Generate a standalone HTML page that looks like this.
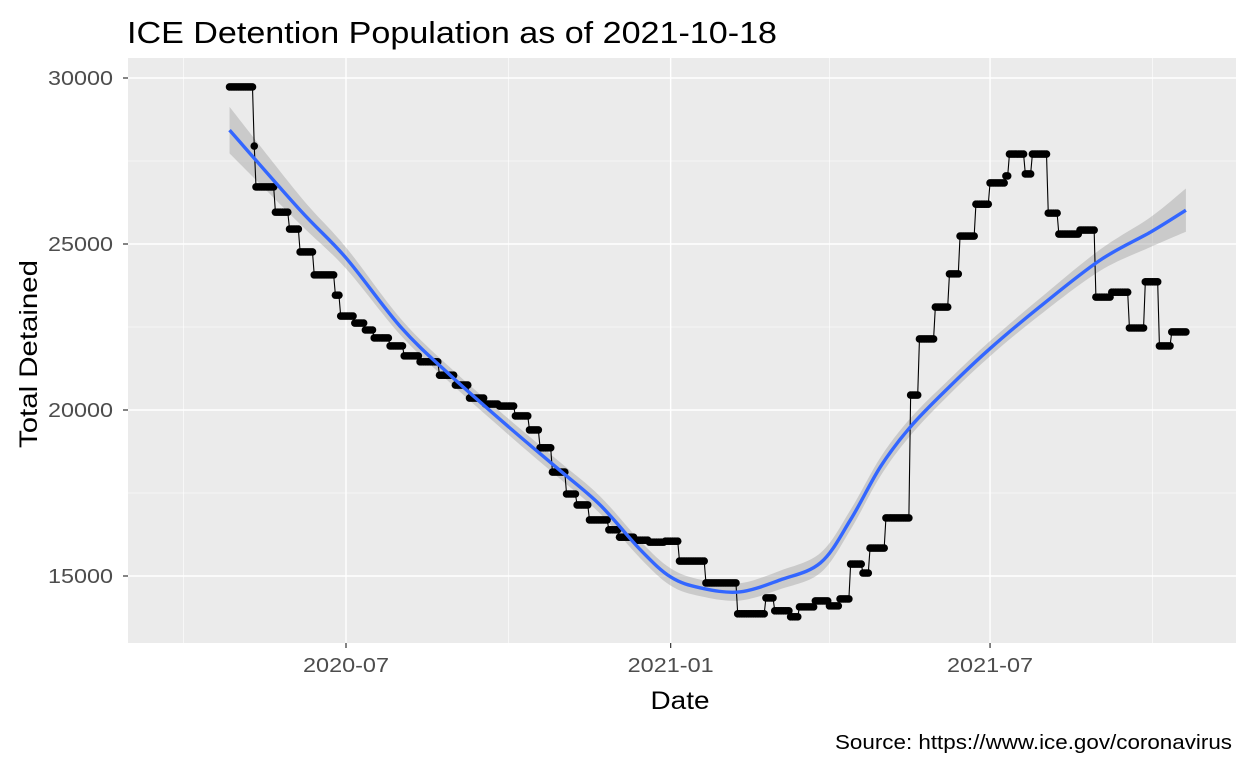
<!DOCTYPE html>
<html><head><meta charset="utf-8"><style>
body{margin:0;background:#fff;}
svg{display:block;font-family:"Liberation Sans",sans-serif;}
</style></head><body>
<svg id="chart" width="1248" height="768">
<rect x="0" y="0" width="1248" height="768" fill="#fff"/>
<text x="127" y="43" font-size="31" textLength="650" lengthAdjust="spacingAndGlyphs" fill="#000">ICE Detention Population as of 2021-10-18</text>
<rect x="128" y="58" width="1108" height="585" fill="#ebebeb"/>
<g id="grid"></g>
<g id="ribbon"></g>
<g id="series"></g>
<g id="smooth"></g>
<g id="axes"></g>
<text x="0" y="0" transform="translate(37,354) rotate(-90)" text-anchor="middle" font-size="25" textLength="188" lengthAdjust="spacingAndGlyphs" fill="#000">Total Detained</text>
<text x="680" y="709" text-anchor="middle" font-size="25" textLength="59" lengthAdjust="spacingAndGlyphs" fill="#000">Date</text>
<text x="1232" y="749" text-anchor="end" font-size="20" textLength="397" lengthAdjust="spacingAndGlyphs" fill="#000">Source: https://www.ice.gov/coronavirus</text>
</svg>
<script>
// days since 2020-07-01 at which each reported level begins
const levelDays = [-66,-52,-51,-40,-32,-26,-18,-6,-3,5,11,16,25,33,42,53,62,70,79,87,96,104,110,117,125,131,138,149,155,164,172,181,189,204,222,238,243,252,257,266,274,280,286,293,297,306,320,325,334,342,348,357,365,374,376,385,389,398,404,416,425,434,444,453,461,468];
const levelValues = [29730,27950,26720,25960,25450,24760,24070,23460,22830,22620,22410,22170,21930,21630,21450,21050,20750,20360,20180,20120,19820,19400,18860,18130,17470,17140,16690,16390,16170,16080,16020,16050,15450,14790,13860,14340,13950,13770,14070,14250,14100,14310,15360,15090,15840,16750,20450,22140,23100,24100,25240,26200,26840,27050,27710,27110,27710,25930,25300,25420,23400,23550,22470,23860,21930,22350];
const lastDay = 476;
const smoothDays = [-66,-26,0,31,59,92,121,144,167,184,201,223,246,269,286,303,320,342,365,393,427,456,476];
const smoothValues = [28430,26020,24580,22500,21050,19500,18190,17140,15780,14970,14640,14520,14880,15400,16700,18300,19500,20700,21850,23100,24500,25360,26020];
const smoothSE = [700,420,320,250,230,240,250,260,260,260,250,260,280,300,300,280,260,230,230,250,320,450,650];
const yTicks = [15000,20000,25000,30000];
const xTickDays = [0,184,365];
const xTickLabels = ["2020-07","2021-01","2021-07"];
const xMinorDays = [-92,92,274,457];

const NS="http://www.w3.org/2000/svg";
const X=d=>346+d*1.7645;
const Y=v=>78+(30000-v)*0.0332;
function el(tag,attrs,parent){const e=document.createElementNS(NS,tag);for(const k in attrs)e.setAttribute(k,attrs[k]);parent.appendChild(e);return e;}
const grid=document.getElementById('grid');
yTicks.forEach((v,i)=>{
  const l=el('line',{x1:128,x2:1236,y1:Y(v),y2:Y(v),stroke:'#fff','stroke-width':1.4},grid);
  
  
  if(i<yTicks.length-1){const m=el('line',{x1:128,x2:1236,y1:Y(v+2500),y2:Y(v+2500),stroke:'#fff','stroke-width':0.6},grid);
  
  }
});
const mm=el('line',{x1:128,x2:1236,y1:Y(12500),y2:Y(12500),stroke:'#fff','stroke-width':0.6},grid);


xMinorDays.forEach(d=>{const l=el('line',{x1:X(d),x2:X(d),y1:58,y2:643,stroke:'#fff','stroke-width':0.6},grid);
  
  });
xTickDays.forEach(d=>{const l=el('line',{x1:X(d),x2:X(d),y1:58,y2:643,stroke:'#fff','stroke-width':1.4},grid);
  
  });

function spline(pts){let d=`M${pts[0][0]},${pts[0][1]}`;
  for(let i=0;i<pts.length-1;i++){const p0=pts[Math.max(i-1,0)],p1=pts[i],p2=pts[i+1],p3=pts[Math.min(i+2,pts.length-1)];
    d+=` C${p1[0]+(p2[0]-p0[0])/6},${p1[1]+(p2[1]-p0[1])/6} ${p2[0]-(p3[0]-p1[0])/6},${p2[1]-(p3[1]-p1[1])/6} ${p2[0]},${p2[1]}`;}
  return d;}
const upper=smoothDays.map((d,i)=>[X(d),Y(smoothValues[i]+smoothSE[i])]);
const lower=smoothDays.map((d,i)=>[X(d),Y(smoothValues[i]-smoothSE[i])]).reverse();
const rp=spline(upper)+' L'+spline(lower).slice(1)+' Z';
const rib=el('path',{d:rp,fill:'#999',opacity:0.4},document.getElementById('ribbon'));



const series=document.getElementById('series');
const pts=[];
for(let i=0;i<levelDays.length;i++){const end=i+1<levelDays.length?levelDays[i+1]:lastDay+1;
  for(let d=levelDays[i];d<end;d++)pts.push([X(d),Y(levelValues[i])]);}
const line=el('polyline',{points:pts.map(p=>p.join(',')).join(' '),fill:'none',stroke:'#000','stroke-width':1.1},series);


pts.forEach(p=>{const c=el('circle',{cx:p[0],cy:p[1],r:3.8,fill:'#000'},series);
  
  });

const sm=el('path',{d:spline(smoothDays.map((d,i)=>[X(d),Y(smoothValues[i])])),fill:'none',stroke:'#3366ff','stroke-width':3.4},document.getElementById('smooth'));



const axes=document.getElementById('axes');
yTicks.forEach(v=>{
  const t=el('line',{x1:123,x2:128,y1:Y(v),y2:Y(v),stroke:'#333','stroke-width':1.2},axes);
  
  
  const tx=el('text',{x:113,y:Y(v)+7,'text-anchor':'end','font-size':20,textLength:65,lengthAdjust:'spacingAndGlyphs',fill:'#4d4d4d'},axes);
  tx.textContent=v;
  
  
});
xTickDays.forEach((d,i)=>{
  const t=el('line',{x1:X(d),x2:X(d),y1:643,y2:648,stroke:'#333','stroke-width':1.2},axes);
  
  
  const tx=el('text',{x:X(d),y:672,'text-anchor':'middle','font-size':20,textLength:86,lengthAdjust:'spacingAndGlyphs',fill:'#4d4d4d'},axes);
  tx.textContent=xTickLabels[i];
  
  
});
</script>
</body></html>
